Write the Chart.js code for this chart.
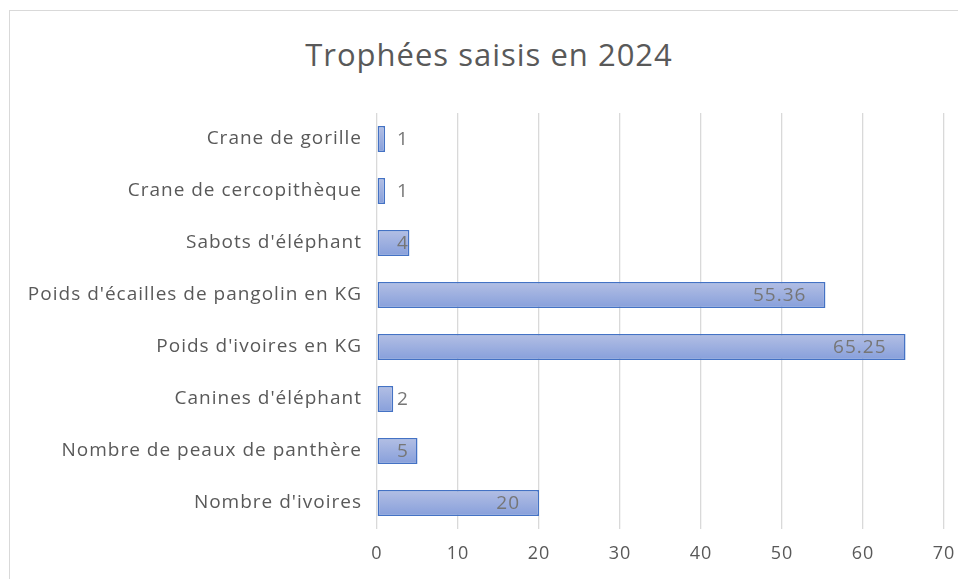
<!DOCTYPE html>
<html>
<head>
<meta charset="utf-8">
<script src="https://cdn.jsdelivr.net/npm/chart.js@4.4.1/dist/chart.umd.min.js"></script>
<style>
    html, body { margin: 0; padding: 0; background: #fff; overflow: hidden; }
    #frame {
        position: absolute; left: 9px; top: 10px;
        width: 960px; height: 600px;
        border: 1px solid #d9d9d9; box-sizing: border-box;
    }
    #title {
        position: absolute; left: 0; top: 25px; width: 958px;
        text-align: center;
        font-family: 'Open Sans', Lato, sans-serif;
        font-size: 31px; line-height: 36px; letter-spacing: 1px;
        color: #595959;
    }
    #chart { position: absolute; left: 0; top: 0; }
</style>
</head>
<body>
<div id="frame">
    <div id="title">Trophées saisis en 2024</div>
    <canvas id="chart" width="960" height="600"></canvas>
</div>
<script>
// Chart data
const categories = [
    "Crane de gorille",
    "Crane de cercopithèque",
    "Sabots d'éléphant",
    "Poids d'écailles de pangolin en KG",
    "Poids d'ivoires en KG",
    "Canines d'éléphant",
    "Nombre de peaux de panthère",
    "Nombre d'ivoires"
];
const seizedValues = [1, 1, 4, 55.36, 65.25, 2, 5, 20];
const xTicks = [0, 10, 20, 30, 40, 50, 60, 70];

const FONT = "'Open Sans', Lato, sans-serif";
const TEXT_GREY = '#595959';

// Vertical gradient for each bar, built from the category scale
function barGradient(context) {
    const chart = context.chart;
    const yScale = chart.scales.y;
    if (!yScale || context.dataIndex === undefined || !(yScale.height > 0)) return '#9aaee0';
    const center = yScale.getPixelForValue(context.dataIndex);
    if (!isFinite(center)) return '#9aaee0';
    const half = yScale.height / categories.length * 0.25;
    const g = chart.ctx.createLinearGradient(0, center - half, 0, center + half);
    g.addColorStop(0, '#b3bfe4');
    g.addColorStop(1, '#879fdb');
    return g;
}

// Slightly wider text spacing, closer to the original's look
const textSpacing = {
    id: 'textSpacing',
    beforeDraw(chart) {
        chart.ctx.letterSpacing = '1px';
    }
};

// Value labels: inside the end of the bar, pushed right when the bar is short
const valueLabels = {
    id: 'valueLabels',
    afterDatasetsDraw(chart) {
        const ctx = chart.ctx;
        const meta = chart.getDatasetMeta(0);
        const xScale = chart.scales.x;
        const base = xScale.getPixelForValue(0);
        ctx.save();
        ctx.font = '19px ' + FONT;
        ctx.fillStyle = '#767676';
        ctx.textBaseline = 'middle';
        ctx.textAlign = 'left';
        meta.data.forEach((bar, i) => {
            const text = String(seizedValues[i]);
            const w = ctx.measureText(text).width;
            const right = Math.max(bar.x - 19, base + 20 + w);
            ctx.fillText(text, right - w, bar.y + 1);
        });
        ctx.restore();
    }
};

const ctx = document.getElementById('chart').getContext('2d');
new Chart(ctx, {
    type: 'bar',
    data: {
        labels: categories,
        datasets: [{
            data: seizedValues,
            backgroundColor: barGradient,
            borderColor: '#4472c4',
            borderWidth: 1.5,
            borderSkipped: false,
            categoryPercentage: 1,
            barPercentage: 0.5
        }]
    },
    options: {
        indexAxis: 'y',
        responsive: false,
        animation: false,
        layout: { padding: { left: 0, right: 26, top: 102, bottom: 0 } },
        plugins: {
            legend: { display: false },
            tooltip: { enabled: false },
            title: { display: false }
        },
        scales: {
            x: {
                min: 0,
                max: 70,
                afterBuildTicks: (scale) => { scale.ticks = xTicks.map(v => ({ value: v })); },
                grid: { color: '#d9d9d9', lineWidth: 1.3, drawTicks: false },
                border: { display: false },
                ticks: {
                    color: TEXT_GREY,
                    font: { family: FONT, size: 18 },
                    padding: 14,
                    maxRotation: 0
                },
                afterFit: (scale) => { scale.height = 82; }
            },
            y: {
                grid: { display: false, drawTicks: false },
                border: { display: false },
                ticks: {
                    color: TEXT_GREY,
                    font: { family: FONT, size: 19 },
                    padding: 15
                },
                afterFit: (scale) => { scale.width = 367; }
            }
        }
    },
    plugins: [textSpacing, valueLabels]
});
</script>
</body>
</html>
